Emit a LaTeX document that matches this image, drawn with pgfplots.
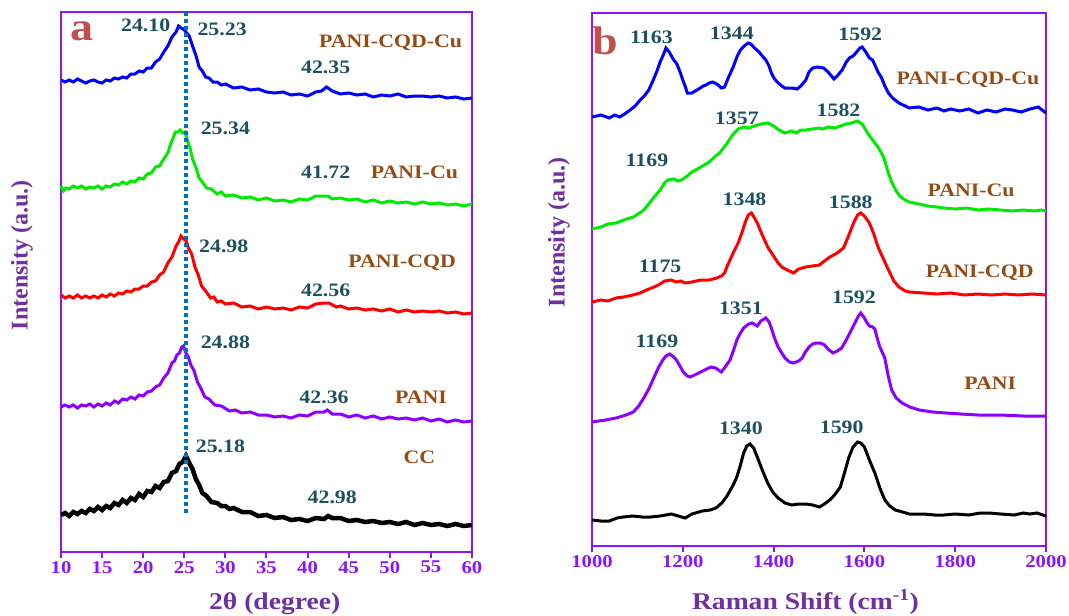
\documentclass[border=0pt]{standalone}
\usepackage{fontspec}
\setmainfont{Liberation Serif}
\usepackage{graphicx}
\usepackage{pgfplots}
\pgfplotsset{compat=1.18}

\definecolor{axviolet}{RGB}{140,20,255}
\definecolor{labpurple}{RGB}{112,48,160}
\definecolor{peakteal}{RGB}{30,80,95}
\definecolor{sampbrown}{RGB}{150,75,20}
\definecolor{panelred}{RGB}{192,80,77}
\definecolor{dotblue}{RGB}{0,112,192}
\definecolor{cgreen}{RGB}{0,235,0}
\definecolor{cviolet}{RGB}{140,0,255}

\newcommand{\xs}[1]{\scalebox{1.15}[1]{#1}}
\newcommand{\fs}[1]{\fontsize{#1}{#1}\selectfont\bfseries}

\pgfplotsset{
  panel/.style={
    scale only axis, clip=false, y dir=reverse,
    axis line style={axviolet, line width=2.5pt},
    ytick=\empty, xtick pos=left, tick align=outside,
    major tick length=6pt,
    tick style={axviolet, line width=2pt},
    xticklabel style={font=\fs{18}, text=axviolet, inner sep=3pt},
  },
}
\tikzset{
  pk/.style={font=\fs{19}, text=peakteal},
  sm/.style={font=\fs{19}, text=sampbrown},
}

\begin{document}
\begin{tikzpicture}
\path[use as bounding box] (0,0) rectangle (1069pt,616pt);

% ---------- (a) XRD ----------
\begin{axis}[panel,
  at={(61pt,64pt)}, anchor=south west,
  width=411pt, height=540pt,
  xmin=10, xmax=60, ymin=12, ymax=552,
  xtick={10,15,...,60},
  xticklabels={\xs{10},\xs{15},\xs{20},\xs{25},\xs{30},\xs{35},\xs{40},\xs{45},\xs{50},\xs{55},\xs{60}},
]
\addplot[blue, line width=3pt] coordinates {
(10,80)(10.5,82)(11,80)(11.5,82)(12,79)(12.5,81)(13,83)(13.5,81)(14,80)(14.5,82)(15,83)(15.5,80)(16,81)(16.5,78)(17,79)(17.5,77)(18,78)(18.5,74)(19,74)(19.5,71)(20,72)(20.5,68)(21,68)(21.5,62)(22,59)(22.5,52)(23,46)(23.5,37)(24,32)(24.3,26)(24.6,28)(24.9,29)(25.2,32)(25.6,36)(26,46)(26.4,55)(26.8,67)(27.2,71)(27.6,77)(28,78)(28.5,82)(29,82)(29.5,85)(30,84)(31,88)(32,87)(33,90)(34,89)(35,92)(36,93)(37,92)(38,95)(39,94)(40,96)(41,92)(41.7,91)(42.3,87)(43,91)(44,94)(45,93)(46,95)(47,94)(48,97)(49,95)(50,96)(51,94)(52,97)(53,96)(54,96)(55,97)(56,96)(57,98)(58,97)(59,99)(60,98)};
\addplot[cgreen, line width=3pt] coordinates {
(10,186)(10.3,191)(10.6,188)(11,189)(11.5,186)(12,188)(12.5,186)(13,189)(13.5,187)(14,188)(14.5,186)(15,189)(15.5,186)(16,187)(16.5,184)(17,185)(17.5,182)(18,184)(18.5,181)(19,182)(19.5,178)(20,179)(20.5,174)(21,173)(21.5,167)(22,166)(22.5,159)(23,153)(23.3,145)(23.6,139)(23.9,132)(24.2,132)(24.5,130)(24.8,133)(25.1,132)(25.4,141)(25.7,148)(26,159)(26.4,167)(26.8,178)(27.2,182)(27.7,188)(28.3,189)(29,194)(29.5,192)(30,196)(31,195)(32,198)(33,197)(34,200)(35,198)(36,201)(37,200)(38,202)(39,199)(40,200)(41,196)(41.8,196)(42.5,196)(43,199)(44,198)(45,200)(46,199)(47,202)(48,200)(49,203)(50,201)(51,203)(52,202)(53,204)(54,202)(55,204)(56,203)(57,205)(58,204)(59,206)(60,204)};
\addplot[red, line width=3pt] coordinates {
(10,295)(10.5,298)(11,296)(11.5,298)(12,295)(12.5,298)(13,296)(13.5,298)(14,296)(14.5,298)(15,295)(15.5,297)(16,294)(16.5,296)(17,293)(17.5,294)(18,291)(18.5,292)(19,289)(19.5,289)(20,286)(20.5,286)(21,282)(21.5,281)(22,275)(22.5,272)(23,263)(23.5,257)(24,246)(24.3,242)(24.6,236)(24.9,239)(25.2,240)(25.5,248)(25.9,254)(26.3,267)(26.7,275)(27.1,286)(27.6,291)(28.2,298)(28.6,297)(29,302)(29.5,301)(30,304)(31,303)(32,307)(33,306)(34,309)(35,307)(36,309)(37,308)(38,310)(39,307)(40,308)(41,304)(42,303)(42.6,303)(43.5,307)(44,306)(45,309)(46,308)(47,310)(48,309)(49,311)(50,309)(51,312)(52,310)(53,312)(54,311)(55,312)(56,311)(57,313)(58,312)(59,314)(60,313)};
\addplot[cviolet, line width=3pt] coordinates {
(10,407)(10.5,405)(11,407)(11.5,405)(12,408)(12.5,405)(13,406)(13.5,404)(14,407)(14.5,404)(15,406)(15.5,403)(16,405)(16.5,401)(17,403)(17.5,399)(18,400)(18.5,397)(19,399)(19.5,395)(20,396)(20.5,392)(21,391)(21.5,387)(22,385)(22.5,378)(23,373)(23.5,363)(23.8,361)(24.1,355)(24.4,353)(24.7,347)(24.9,346)(25.2,353)(25.5,357)(25.8,365)(26.2,371)(26.6,382)(27,388)(27.5,397)(28,399)(28.7,405)(29.5,406)(30.5,411)(31.2,410)(32,413)(33,412)(34,415)(35,415)(36,417)(37,416)(38,418)(39,415)(40,416)(41,412)(42,412)(42.4,410)(43,414)(44,414)(45,417)(46,415)(47,418)(48,416)(49,419)(50,417)(51,419)(52,418)(53,420)(54,418)(55,421)(56,419)(57,422)(58,420)(59,422)(60,421)};
\addplot[black, line width=4.5pt] coordinates {
(10,515)(10.5,513)(11,516)(11.5,512)(12,514)(12.5,511)(13,513)(13.5,509)(14,511)(14.5,507)(15,510)(15.5,506)(16,508)(16.5,503)(17,505)(17.5,500)(18,503)(18.5,498)(19,500)(19.5,494)(20,497)(20.5,491)(21,492)(21.5,486)(22,488)(22.5,482)(23,481)(23.5,473)(24,471)(24.4,464)(24.8,462)(25.2,456)(25.6,463)(26,469)(26.4,479)(26.8,485)(27.2,493)(27.7,496)(28.3,502)(29,503)(29.5,506)(30,506)(30.5,509)(31,508)(32,512)(33,512)(34,516)(35,515)(36,518)(37,517)(38,520)(39,519)(40,521)(41,518)(42,519)(42.5,516)(43,518)(44,518)(45,521)(46,520)(47,522)(48,521)(49,523)(50,522)(51,524)(52,522)(53,525)(54,523)(55,525)(56,524)(57,526)(58,524)(59,526)(60,525)};
% reference line at 25.18
\addplot[dotblue, line width=3.5pt, dash pattern=on 4pt off 3pt] coordinates {(25.18,12)(25.18,513)};

\node[font=\fs{40}, text=panelred] at (axis cs:12.6,31) {\xs{a}};
\node[pk] at (axis cs:20.3,25) {\xs{24.10}};
\node[pk] at (axis cs:29.6,29) {\xs{25.23}};
\node[sm] at (axis cs:50.1,43) {\xs{PANI-CQD-Cu}};
\node[pk] at (axis cs:42.2,67) {\xs{42.35}};
\node[pk] at (axis cs:30.0,128) {\xs{25.34}};
\node[pk] at (axis cs:42.2,172) {\xs{41.72}};
\node[sm] at (axis cs:53.0,172) {\xs{PANI-Cu}};
\node[pk] at (axis cs:29.8,246) {\xs{24.98}};
\node[sm] at (axis cs:51.5,263) {\xs{PANI-CQD}};
\node[pk] at (axis cs:42.2,290) {\xs{42.56}};
\node[pk] at (axis cs:30.0,342) {\xs{24.88}};
\node[pk] at (axis cs:42.0,397) {\xs{42.36}};
\node[sm] at (axis cs:53.8,397) {\xs{PANI}};
\node[pk] at (axis cs:29.4,446) {\xs{25.18}};
\node[sm] at (axis cs:53.6,457) {\xs{CC}};
\node[pk] at (axis cs:43.0,497) {\xs{42.98}};

\node[font=\fs{24}, text=labpurple] at (axis cs:36,604) {\xs{2θ (degree)}};
\node[font=\fs{24}, text=labpurple, rotate=90] at (axis cs:5.25,255) {Intensity (a.u.)};
\end{axis}

% ---------- (b) Raman ----------
\begin{axis}[panel,
  at={(592pt,70pt)}, anchor=south west,
  width=454pt, height=533pt,
  xmin=1000, xmax=2000, ymin=13, ymax=546,
  xtick={1000,1200,...,2000},
  xticklabels={\xs{1000},\xs{1200},\xs{1400},\xs{1600},\xs{1800},\xs{2000}},
]
\addplot[blue, line width=3pt] coordinates {
(1000,117)(1020,115)(1038,118)(1050,115)(1061,117)(1075,113)(1084,110)(1095,106)(1106,100)(1115,96)(1125,90)(1135,80)(1144,70)(1150,62)(1157,55)(1163,48)(1170,52)(1180,60)(1187,64)(1194,72)(1200,80)(1205,86)(1210,93)(1220,93)(1235,89)(1245,86)(1251,85)(1258,83)(1266,82)(1275,84)(1285,88)(1292,87)(1300,78)(1311,67)(1320,56)(1327,50)(1335,46)(1344,43)(1350,44)(1358,48)(1368,52)(1375,56)(1383,60)(1390,66)(1395,73)(1402,79)(1410,83)(1418,86)(1425,88)(1440,88)(1452,89)(1460,86)(1471,80)(1478,72)(1486,68)(1497,67)(1510,68)(1520,72)(1533,79)(1540,76)(1551,70)(1560,62)(1567,58)(1575,56)(1581,53)(1590,48)(1595,47)(1603,52)(1611,58)(1618,60)(1623,65)(1630,72)(1638,78)(1645,86)(1653,93)(1662,98)(1676,103)(1690,106)(1699,108)(1720,107)(1740,110)(1760,108)(1775,111)(1790,109)(1810,111)(1830,109)(1850,113)(1870,110)(1890,112)(1910,109)(1926,110)(1945,112)(1965,109)(1983,107)(2000,113)};
\addplot[cgreen, line width=3pt] coordinates {
(1000,229)(1020,227)(1035,224)(1053,223)(1070,220)(1091,217)(1105,213)(1114,210)(1125,204)(1137,197)(1150,190)(1160,183)(1167,180)(1180,179)(1190,181)(1197,180)(1210,176)(1220,172)(1240,167)(1258,162)(1270,157)(1281,153)(1295,145)(1311,134)(1322,129)(1334,127)(1345,128)(1357,126)(1372,124)(1387,123)(1400,126)(1412,130)(1425,133)(1440,131)(1450,133)(1460,130)(1471,130)(1485,129)(1500,128)(1509,129)(1520,127)(1535,128)(1547,126)(1560,124)(1572,123)(1585,121)(1595,124)(1607,133)(1618,140)(1630,147)(1640,155)(1645,161)(1652,172)(1661,183)(1670,191)(1680,197)(1690,200)(1699,202)(1720,204)(1740,206)(1760,207)(1775,208)(1800,209)(1825,208)(1850,210)(1875,209)(1900,210)(1925,211)(1950,210)(1975,211)(1990,210)(2000,211)};
\addplot[red, line width=3pt] coordinates {
(1000,302)(1020,300)(1035,301)(1053,298)(1070,297)(1090,295)(1106,293)(1120,290)(1137,287)(1150,284)(1160,281)(1175,280)(1185,282)(1195,281)(1205,283)(1220,282)(1240,280)(1258,280)(1275,278)(1285,276)(1292,273)(1298,266)(1304,260)(1312,252)(1322,243)(1330,233)(1337,223)(1344,215)(1351,213)(1358,218)(1364,223)(1375,235)(1387,247)(1400,256)(1410,263)(1418,267)(1430,270)(1444,273)(1455,269)(1471,267)(1485,266)(1501,265)(1512,261)(1524,257)(1540,253)(1554,248)(1565,236)(1577,222)(1585,215)(1592,213)(1600,216)(1611,223)(1620,233)(1630,247)(1642,259)(1653,270)(1665,281)(1676,287)(1690,291)(1699,292)(1730,293)(1760,294)(1790,293)(1820,295)(1850,294)(1880,295)(1910,294)(1940,295)(1970,294)(2000,295)};
\addplot[cviolet, line width=3pt] coordinates {
(1000,422)(1030,420)(1053,418)(1075,415)(1091,412)(1103,406)(1114,398)(1125,389)(1137,377)(1147,367)(1156,360)(1163,356)(1171,354)(1180,357)(1186,360)(1195,367)(1201,372)(1210,376)(1216,377)(1226,375)(1235,373)(1248,370)(1262,367)(1272,368)(1285,372)(1295,366)(1304,360)(1312,350)(1319,340)(1327,333)(1334,328)(1345,324)(1353,323)(1360,325)(1364,326)(1372,321)(1383,318)(1390,322)(1395,328)(1402,338)(1410,347)(1418,353)(1425,358)(1435,362)(1444,363)(1455,361)(1463,358)(1470,352)(1478,347)(1486,344)(1494,343)(1503,343)(1512,345)(1522,350)(1531,353)(1540,351)(1550,348)(1560,340)(1569,332)(1580,322)(1587,316)(1592,313)(1600,318)(1606,323)(1611,326)(1618,327)(1623,329)(1628,338)(1634,347)(1640,353)(1645,358)(1652,375)(1660,390)(1670,398)(1683,403)(1700,407)(1721,410)(1750,412)(1780,413)(1812,414)(1850,415)(1900,415)(1950,416)(2000,416)};
\addplot[black, line width=3pt] coordinates {
(1000,520)(1020,521)(1038,521)(1055,518)(1068,517)(1090,516)(1110,517)(1129,517)(1150,516)(1175,514)(1190,516)(1205,518)(1220,514)(1243,511)(1260,510)(1273,508)(1286,503)(1296,497)(1305,490)(1312,484)(1319,477)(1327,465)(1334,453)(1341,446)(1348,444)(1356,448)(1364,457)(1375,470)(1387,483)(1398,492)(1410,498)(1425,503)(1440,505)(1455,504)(1471,504)(1486,505)(1501,507)(1512,504)(1524,500)(1536,494)(1547,487)(1556,473)(1566,457)(1575,447)(1585,442)(1592,443)(1600,447)(1611,460)(1623,473)(1634,488)(1645,500)(1656,506)(1668,510)(1684,512)(1699,514)(1730,514)(1755,515)(1775,515)(1800,514)(1830,515)(1855,513)(1874,513)(1900,514)(1930,515)(1950,513)(1964,514)(1980,513)(2000,516)};

\node[font=\fs{40}, text=panelred] at (axis cs:1029,41) {\xs{b}};
\node[pk] at (axis cs:1131,37) {\xs{1163}};
\node[pk] at (axis cs:1308,33) {\xs{1344}};
\node[pk] at (axis cs:1591,34) {\xs{1592}};
\node[sm] at (axis cs:1828,80) {\xs{PANI-CQD-Cu}};
\node[pk] at (axis cs:1319,118) {\xs{1357}};
\node[pk] at (axis cs:1543,110) {\xs{1582}};
\node[pk] at (axis cs:1121,160) {\xs{1169}};
\node[sm] at (axis cs:1835,190) {\xs{PANI-Cu}};
\node[pk] at (axis cs:1336,199) {\xs{1348}};
\node[pk] at (axis cs:1570,202) {\xs{1588}};
\node[pk] at (axis cs:1150,266) {\xs{1175}};
\node[sm] at (axis cs:1854,273) {\xs{PANI-CQD}};
\node[pk] at (axis cs:1577,297) {\xs{1592}};
\node[pk] at (axis cs:1328,308) {\xs{1351}};
\node[pk] at (axis cs:1143,341) {\xs{1169}};
\node[sm] at (axis cs:1877,383) {\xs{PANI}};
\node[pk] at (axis cs:1328,428) {\xs{1340}};
\node[pk] at (axis cs:1550,427) {\xs{1590}};

\node[font=\fs{24}, text=labpurple] at (axis cs:1470,602) {\xs{Raman Shift (cm\textsuperscript{-1})}};
\node[font=\fs{24}, text=labpurple, rotate=90] at (axis cs:927,232) {Intensity (a.u.)};
\end{axis}
\end{tikzpicture}
\end{document}
